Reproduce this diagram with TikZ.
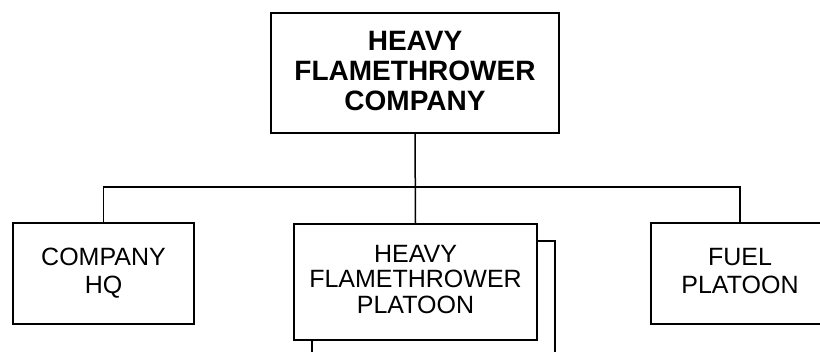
\documentclass[tikz,border=0pt]{standalone}
\usepackage{fontspec}
\setmainfont{Liberation Sans}
\begin{document}
\begin{tikzpicture}[x=1pt,y=-1pt,
  box/.style={draw, line width=1.5pt, fill=white, inner sep=0pt, align=center},
  conn/.style={line width=1.5pt}]
\useasboundingbox (0,0) rectangle (820,352);
\clip (0,0) rectangle (820,352);
\node[box, minimum width=288pt, minimum height=120pt, text depth=4pt,
      font=\bfseries\fontsize{28}{30}\selectfont] (top) at (415,73)
  {HEAVY\\FLAMETHROWER\\COMPANY};
\node[box, minimum width=181pt, minimum height=101pt,
      font=\fontsize{25}{28}\selectfont] (hq) at (103.5,273.5)
  {COMPANY\\HQ};
\node[box, minimum width=243pt, minimum height=116pt] (shadow) at (433.5,299) {};
\node[box, minimum width=243pt, minimum height=116pt, text depth=6pt,
      font=\fontsize{25}{25.5}\selectfont] (mid) at (415.5,282)
  {HEAVY\\FLAMETHROWER\\PLATOON};
\node[box, minimum width=178pt, minimum height=101pt, text depth=5pt,
      font=\fontsize{25}{28}\selectfont] (fuel) at (740,273.5)
  {FUEL\\PLATOON};
\draw[conn] (top.south) -- (mid.north);
\draw[conn] (hq.north) -- ++(0,-35) -| (fuel.north);
\end{tikzpicture}
\end{document}
